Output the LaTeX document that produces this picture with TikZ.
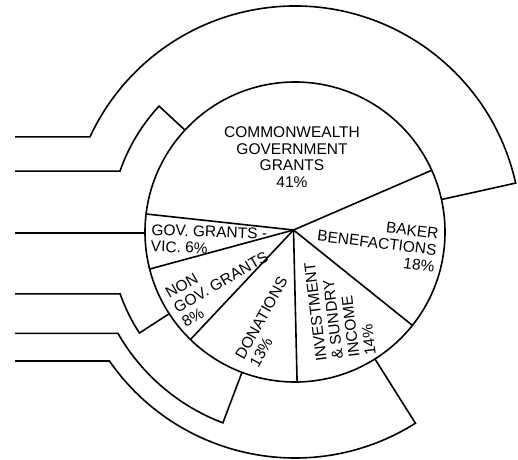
\documentclass[tikz,border=0pt]{standalone}
\usepackage{fontspec}
\setmainfont{Liberation Sans}
\usetikzlibrary{calc}
\begin{document}
\begin{tikzpicture}[x=1pt,y=1pt,line width=1.6pt,line join=miter,
  lbl/.style={font=\fontsize{15.5}{16.5}\selectfont,inner sep=0pt}]
\useasboundingbox (0,0) rectangle (518,459);
\coordinate (O) at (295,227);
\coordinate (H) at (293.5,229);
\coordinate (L) at (15,0);
% pie
\draw (O) circle[radius=150];
\foreach \a/\n in {24.3/p1,-38.5/p2,-89.2/p3,225.8/p4,194.3/p5,173.1/p6}
  \draw (H) -- ([shift={(\a:150)}]O) coordinate (\n);
% outer bands
\draw ([shift={(12.5:150)}]O) coordinate (b1i) -- ([shift={(12.5:226)}]O) coordinate (b1o)
  arc[start angle=12.5,end angle=155.1,radius=226] coordinate (b1e) -- (b1e -| L);
\draw ([shift={(137.2:150)}]O) coordinate (b2i) -- ([shift={(137.2:185.3)}]O) coordinate (b2o)
  arc[start angle=137.2,end angle=160.8,radius=185.3] coordinate (b2e) -- (b2e -| L);
\draw ([shift={(180.4:150)}]O) coordinate (g) -- (g -| L);
\draw ([shift={(213:150)}]O) coordinate (b3i) -- ([shift={(213:185.5)}]O) coordinate (b3o)
  arc[start angle=213,end angle=199.5,radius=185.5] coordinate (b3e) -- (b3e -| L);
\draw ([shift={(249.3:150)}]O) coordinate (b4i) -- ([shift={(249.3:204)}]O) coordinate (b4o)
  arc[start angle=249.3,end angle=209.8,radius=204] coordinate (b4e) -- (b4e -| L);
\draw ([shift={(302.2:150)}]O) coordinate (b5i) -- ([shift={(302.2:226)}]O) coordinate (b5o)
  arc[start angle=302.2,end angle=214.8,radius=226] coordinate (b5e) -- (b5e -| L);
% labels
\node[lbl,align=center] (cw) at (292,302) {COMMONWEALTH\\GOVERNMENT\\GRANTS\\41\%};
\node[lbl,align=right,rotate=-7] (bk) at (377,216) {BAKER\\BENEFACTIONS\\18\%};
\node[lbl,align=left,rotate=-2] (gv) at (209,219) {GOV. GRANTS -\\VIC. 6\%};
\node[lbl,align=left,rotate=30] (ng) at (221,177) {NON\\GOV. GRANTS\\8\%};
\node[lbl,align=left,rotate=61] (dn) at (268.5,137) {DONATIONS\\13\%};
\node[lbl,align=left,rotate=97] (iv) at (340,150) {INVESTMENT\\\& SUNDRY\\INCOME\\14\%};
\end{tikzpicture}
\end{document}
